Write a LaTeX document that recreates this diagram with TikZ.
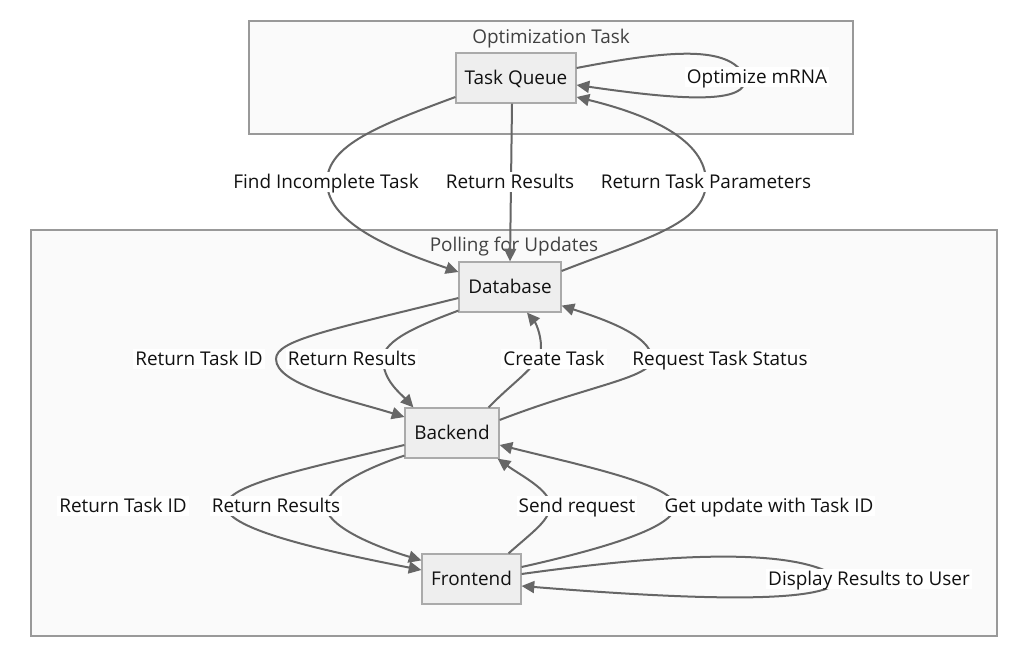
\documentclass[tikz,border=0pt]{standalone}
\usepackage{fontspec}
\setmainfont{Open Sans}
\usetikzlibrary{arrows.meta,calc}
\definecolor{edgec}{HTML}{666666}
\definecolor{nodefill}{HTML}{EEEEEE}
\definecolor{nodeline}{HTML}{AAAAAA}
\definecolor{clfill}{HTML}{FAFAFA}
\definecolor{clline}{HTML}{999999}
\definecolor{txt}{HTML}{111111}
\tikzset{
  txtfont/.style={font=\fontsize{14.2pt}{16pt}\selectfont, text height=11pt, text depth=1pt},
  clusterbox/.style={draw=clline, fill=clfill, line width=0.9pt, inner sep=0pt},
  cltitle/.style={txtfont, text=txt!80!white, inner sep=0pt},
  box/.style={txtfont, draw=nodeline, fill=nodefill, line width=0.9pt, minimum height=37.5pt, inner sep=0pt, text=txt},
  lab/.style={txtfont, fill=white, inner sep=1.5pt, text=txt},
  edge/.style={draw=edgec, line width=1.5pt, -{Triangle[length=9.5pt,width=9pt]}},
}
\begin{document}
\begin{tikzpicture}[x=0.75pt,y=-0.75pt]
\useasboundingbox (0,0) rectangle (1012,648);
\fill[white] (0,0) rectangle (1012,648);
% clusters
\node[clusterbox, minimum width=453pt, minimum height=84.75pt] (optc) at (551,77.5) {};
\node[clusterbox, minimum width=724.5pt, minimum height=304.5pt] (pollc) at (514,433) {};
\node[cltitle] (optt) at (551,37) {Optimization Task};
\node[cltitle] (pollt) at (514,245) {Polling for Updates};
% nodes
\node[box, minimum width=90pt] (tq) at (516,78) {Task Queue};
\node[box, minimum width=76.5pt] (db) at (510,287) {Database};
\node[box, minimum width=70.5pt] (be) at (452,433) {Backend};
\node[box, minimum width=74.25pt] (fe) at (471.5,579) {Frontend};
% edges
\draw[edge] ($(tq.west)+(0,19)$) .. controls (380,125) and (327,145) .. (327,182) .. controls (327,225) and (400,252) .. ($(db.west)+(0,-15)$);
\draw[edge] ($(tq.south)+(-4,0)$) -- (db.north);
\draw[edge] ($(db.east)+(0,-16)$) .. controls (640,240) and (706,225) .. (706,182) .. controls (706,140) and (650,115) .. ($(tq.east)+(0,19)$);
\draw[edge] ($(tq.east)+(0,-10)$) .. controls (670,50) and (730,45) .. (745,77) .. controls (750,105) and (680,100) .. ($(tq.east)+(0,7)$);
\draw[edge] ($(db.west)+(0,11)$) .. controls (330,330) and (276,340) .. (276,359) .. controls (276,385) and (350,400) .. ($(be.west)+(0,-16)$);
\draw[edge] ($(db.south west)+(0,-2)$) .. controls (420,325) and (383,340) .. (383,359) .. controls (383,380) and (400,393) .. ($(be.north west)+(9,0)$);
\draw[edge] ($(be.north east)+(-11,0)$) .. controls (515,380) and (541,365) .. (541,347) .. controls (541,333) and (535,322) .. ($(db.south)+(17,0)$);
\draw[edge] ($(be.east)+(0,-13)$) .. controls (590,385) and (652,378) .. (652,359) .. controls (652,335) and (600,318) .. ($(db.south east)+(0,-7)$);
\draw[edge] ($(be.west)+(0,12)$) .. controls (300,470) and (226,485) .. (226,506) .. controls (226,530) and (330,552) .. ($(fe.west)+(0,-9)$);
\draw[edge] ($(be.south west)+(0,-3)$) .. controls (360,470) and (326,490) .. (326,506) .. controls (326,525) and (370,545) .. ($(fe.north west)+(0,7)$);
\draw[edge] ($(fe.north)+(37,0)$) .. controls (535,530) and (550,520) .. (550,505) .. controls (550,490) and (520,475) .. ($(be.south east)+(-2,0)$);
\draw[edge] ($(fe.east)+(0,-12)$) .. controls (620,545) and (675,525) .. (675,506) .. controls (675,485) and (580,465) .. ($(be.east)+(0,12)$);
\draw[edge] ($(fe.east)+(0,-5)$) .. controls (680,552) and (800,548) .. (840,579) .. controls (830,602) and (720,602) .. ($(fe.east)+(0,7)$);
% labels
\node[lab] (l1) at (326,182) {Find Incomplete Task};
\node[lab] (l2) at (510,182) {Return Results};
\node[lab] (l3) at (706,182) {Return Task Parameters};
\node[lab] (l4) at (757,77) {Optimize mRNA};
\node[lab] (l5) at (199,359) {Return Task ID};
\node[lab] (l6) at (352,359) {Return Results};
\node[lab] (l7) at (554,359) {Create Task};
\node[lab] (l8) at (720,359) {Request Task Status};
\node[lab] (l9) at (123,506) {Return Task ID};
\node[lab] (l10) at (276,506) {Return Results};
\node[lab] (l11) at (577,506) {Send request};
\node[lab] (l12) at (769,506) {Get update with Task ID};
\node[lab] (l13) at (869,579) {Display Results to User};
\end{tikzpicture}
\end{document}
